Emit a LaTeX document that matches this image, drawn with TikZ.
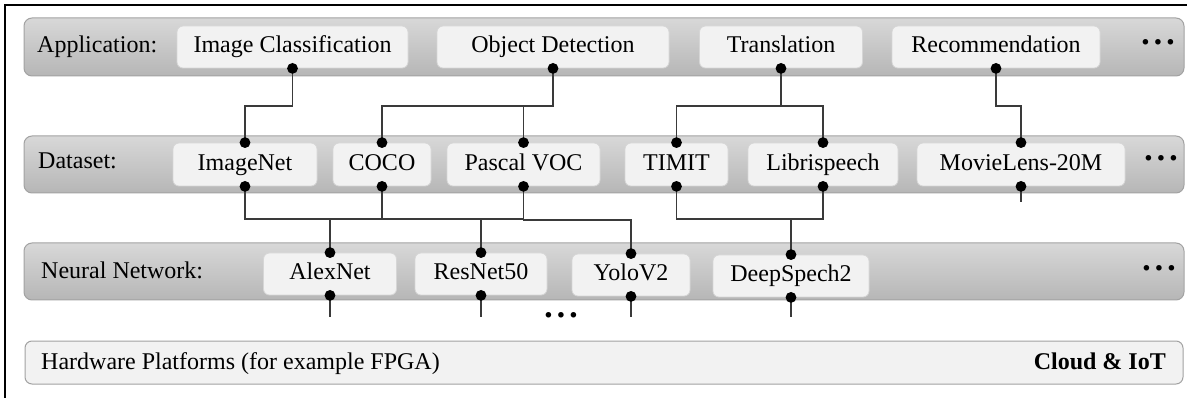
\documentclass[tikz,border=0pt]{standalone}
\usepackage{fontspec}
\setmainfont{Liberation Serif}
\definecolor{barTop}{HTML}{D8D8D8}
\definecolor{barBot}{HTML}{B6B6B6}
\definecolor{barLine}{HTML}{A2A2A2}
\definecolor{itemFill}{HTML}{F2F2F2}
\definecolor{itemLine}{HTML}{D6D6D6}
\definecolor{wire}{HTML}{3A3A3A}
\begin{document}
\begin{tikzpicture}[x=1pt,y=-1pt,
  every node/.style={font=\fontsize{24}{28}\selectfont, text=black},
  bar/.style={draw=barLine, line width=1pt, rounded corners=8pt, top color=barTop, bottom color=barBot},
  base/.style={draw=barLine, line width=1pt, rounded corners=7pt, fill=itemFill},
  item/.style={draw=itemLine, line width=0.8pt, rounded corners=6pt, fill=itemFill,
    inner sep=0pt, text height=17pt, text depth=5pt},
  label/.style={anchor=west, inner sep=0pt, text height=17pt, text depth=5pt},
  wired/.style={draw=wire, line width=1.4pt},
  pin/.style={fill=black},
  more/.style={inner sep=0pt, font=\bfseries\fontsize{34}{34}\selectfont}
]
\useasboundingbox (0,0) rectangle (1187,398);

% frame edges
\draw[line width=2pt] (5,398) -- (5,5) -- (1187,5);

% layer bars
\draw[bar] (24,18) rectangle (1184,76);
\draw[bar] (24,136) rectangle (1184,193);
\draw[bar] (24,243) rectangle (1184,300);
\draw[base] (25,341) rectangle (1183,384);

% layer labels
\node[label] (lapp) at (37,47) {Application:};
\node[label] (lds)  at (38,163) {Dataset:};
\node[label] (lnn)  at (41,273) {Neural Network:};
\node[label] (lhw)  at (41,363) {Hardware Platforms (for example FPGA)};
\node[label, anchor=east, font=\bfseries\fontsize{24}{28}\selectfont] (lcloud) at (1166,363) {Cloud \& IoT};

% continuation marks
\newcommand{\moredots}{\makebox[12.5pt]{\textperiodcentered}\makebox[12.5pt]{\textperiodcentered}\makebox[12.5pt]{\textperiodcentered}}
\node[more] (mapp) at (1158,47) {\moredots};
\node[more] (mds)  at (1161,163) {\moredots};
\node[more] (mnn)  at (1159,273) {\moredots};
\node[more] (mmid) at (561,320) {\moredots};

% applications
\node[item, minimum width=231pt, minimum height=42pt] (ic)  at (292.5,47) {Image Classification};
\node[item, minimum width=232pt, minimum height=42pt] (od)  at (553,47) {Object Detection};
\node[item, minimum width=163pt, minimum height=42pt] (tr)  at (781,47) {Translation};
\node[item, minimum width=208pt, minimum height=42pt] (rec) at (996,47) {Recommendation};

% datasets
\node[item, minimum width=144pt, minimum height=43pt] (inet)  at (245,164.5) {ImageNet};
\node[item, minimum width=98pt,  minimum height=43pt] (coco)  at (382,164.5) {COCO};
\node[item, minimum width=153pt, minimum height=43pt] (voc)   at (523.5,164.5) {Pascal VOC};
\node[item, minimum width=103pt, minimum height=43pt] (timit) at (676.5,164.5) {TIMIT};
\node[item, minimum width=150pt, minimum height=43pt] (libri) at (823,164.5) {Librispeech};
\node[item, minimum width=208pt, minimum height=43pt] (ml)    at (1021,164.5) {MovieLens-20M};

% networks
\node[item, minimum width=133pt, minimum height=42pt] (alex) at (330,274) {AlexNet};
\node[item, minimum width=132pt, minimum height=42pt] (res)  at (481,274) {ResNet50};
\node[item, minimum width=118pt, minimum height=42pt] (yolo) at (631,275) {YoloV2};
\node[item, minimum width=156pt, minimum height=42pt] (ds)   at (791,276) {DeepSpech2};

% routing levels
\coordinate (upper) at (0,106);
\coordinate (lower) at (0,219);
\coordinate (lower2) at (0,219.8);
\coordinate (stubs) at (0,317);
\coordinate (mlend) at (0,202);

% application -> dataset
\draw[wired] (ic.south) -- (ic.south |- upper) -| (inet.north);
\draw[wired] (od.south) -- (od.south |- upper) -| (coco.north);
\draw[wired] (voc.north) -- (voc.north |- upper);
\draw[wired] (tr.south) -- (tr.south |- upper);
\draw[wired] (timit.north) |- (libri.north |- upper) -- (libri.north);
\draw[wired] (rec.south) -- (rec.south |- upper) -| (ml.north);

% dataset -> network
\draw[wired] (inet.south) |- (voc.south |- lower);
\draw[wired] (coco.south) -- (coco.south |- lower);
\draw[wired] (alex.north) -- (alex.north |- lower);
\draw[wired] (res.north) -- (res.north |- lower);
\draw[wired, line width=1.9pt] (voc.south) -- (voc.south |- lower2) -| (yolo.north);
\draw[wired] (timit.south) |- (libri.south |- lower) -- (libri.south);
\draw[wired] (ds.north) -- (ds.north |- lower);
\draw[wired] (ml.south) -- (ml.south |- mlend);

% network -> hardware
\draw[wired] (alex.south) -- (alex.south |- stubs);
\draw[wired] (res.south) -- (res.south |- stubs);
\draw[wired] (yolo.south) -- (yolo.south |- stubs);
\draw[wired] (ds.south) -- (ds.south |- stubs);

% connection points
\foreach \n in {ic,od,tr,rec} \fill[pin] (\n.south) circle[radius=5.4pt];
\foreach \n in {inet,coco,voc,timit,libri,ml,alex,res,yolo,ds} {
  \fill[pin] (\n.north) circle[radius=5.4pt];
  \fill[pin] (\n.south) circle[radius=5.4pt];
}
\end{tikzpicture}
\end{document}
